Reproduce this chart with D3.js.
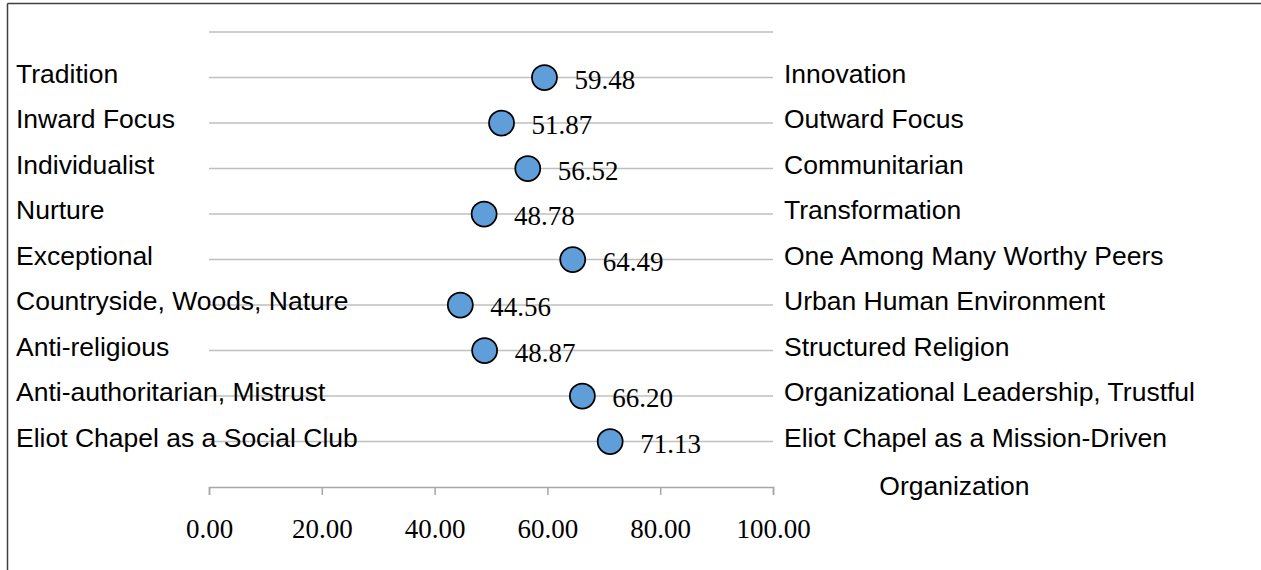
<!DOCTYPE html>
<html>
<head>
<meta charset="utf-8">
<script src="https://cdn.jsdelivr.net/npm/d3@7"></script>
<style>
  html, body { margin: 0; padding: 0; background: #fff; }
  svg { display: block; }
</style>
</head>
<body>
<svg id="chart" width="1261" height="570"></svg>
<script>
const leftLabels = ["Tradition", "Inward Focus", "Individualist", "Nurture", "Exceptional",
  "Countryside, Woods, Nature", "Anti-religious", "Anti-authoritarian, Mistrust", "Eliot Chapel as a Social Club"];
const rightLabels = ["Innovation", "Outward Focus", "Communitarian", "Transformation", "One Among Many Worthy Peers",
  "Urban Human Environment", "Structured Religion", "Organizational Leadership, Trustful",
  "Eliot Chapel as a Mission-Driven Organization"];
const scores = [59.48, 51.87, 56.52, 48.78, 64.49, 44.56, 48.87, 66.20, 71.13];
const rowPositions = [9, 8, 7, 6, 5, 4, 3, 2, 1];
const xTicks = [0, 20, 40, 60, 80, 100];
const gridLevels = [10, 9, 8, 7, 6, 5, 4, 3, 2, 1];

const svg = d3.select("#chart");
const x = d3.scaleLinear().domain([0, 100]).range([209, 773]);
const y = d3.scaleLinear().domain([0, 10]).range([487, 32]);

const sans = "'Liberation Sans', Arial, sans-serif";
const serif = "'Liberation Serif', 'Times New Roman', serif";
const labelSize = 26.5;

// frame (top and left border)
svg.append("line").attr("x1", 7.5).attr("x2", 1261).attr("y1", 3.5).attr("y2", 3.5)
  .attr("stroke", "#404040").attr("stroke-width", 1.5);
svg.append("line").attr("x1", 7.5).attr("x2", 7.5).attr("y1", 3.5).attr("y2", 570)
  .attr("stroke", "#404040").attr("stroke-width", 1.5);

// gridlines
svg.append("g").selectAll("line").data(gridLevels).join("line")
  .attr("x1", x(0)).attr("x2", x(100))
  .attr("y1", d => y(d)).attr("y2", d => y(d))
  .attr("stroke", "#bfbfbf").attr("stroke-width", 1.5);

// x axis
const axis = svg.append("g").attr("transform", `translate(0,${y(0)})`)
  .call(d3.axisBottom(x).tickValues(xTicks).tickSize(8).tickPadding(24).tickFormat(d3.format(".2f")));
axis.select(".domain").attr("stroke", "#a6a6a6").attr("stroke-width", 1.5);
axis.selectAll(".tick line").attr("stroke", "#a6a6a6").attr("stroke-width", 1.5);
axis.selectAll(".tick text").attr("fill", "#000").attr("font-family", serif).attr("font-size", 27);

// left labels
svg.append("g").selectAll("text").data(leftLabels).join("text")
  .attr("x", 16).attr("y", (d, i) => y(rowPositions[i]) + 5)
  .attr("font-family", sans).attr("font-size", labelSize).attr("fill", "#000")
  .text(d => d);

// right labels (last one wraps onto two lines)
const rg = svg.append("g");
rightLabels.forEach((lab, i) => {
  const yy = y(rowPositions[i]) + 5;
  if (lab === "Eliot Chapel as a Mission-Driven Organization") {
    const t1 = rg.append("text").attr("x", 784).attr("y", yy)
      .attr("font-family", sans).attr("font-size", labelSize).attr("fill", "#000")
      .text("Eliot Chapel as a Mission-Driven");
    const w = t1.node().getComputedTextLength();
    rg.append("text").attr("x", 784 + w / 2 - 21).attr("y", yy + 48)
      .attr("text-anchor", "middle")
      .attr("font-family", sans).attr("font-size", labelSize).attr("fill", "#000")
      .text("Organization");
  } else {
    rg.append("text").attr("x", 784).attr("y", yy)
      .attr("font-family", sans).attr("font-size", labelSize).attr("fill", "#000")
      .text(lab);
  }
});

// markers
svg.append("g").selectAll("circle").data(scores).join("circle")
  .attr("cx", d => x(d)).attr("cy", (d, i) => y(rowPositions[i]))
  .attr("r", 12.5)
  .attr("fill", "#5f9ed9").attr("stroke", "#000").attr("stroke-width", 1.75);

// data labels
svg.append("g").selectAll("text").data(scores).join("text")
  .attr("x", d => x(d) + 30).attr("y", (d, i) => y(rowPositions[i]) + 11)
  .attr("font-family", serif).attr("font-size", 27).attr("fill", "#000")
  .text(d => d3.format(".2f")(d));
</script>
</body>
</html>
